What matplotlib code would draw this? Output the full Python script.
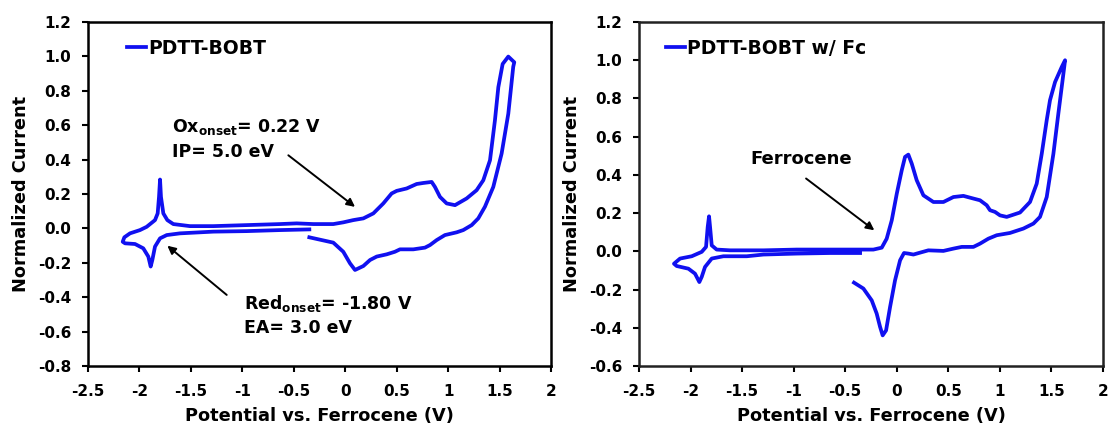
import matplotlib
matplotlib.use("Agg")
import matplotlib.pyplot as plt

plt.rcParams['font.family'] = 'DejaVu Sans'
plt.rcParams['font.weight'] = 'bold'
plt.rcParams['axes.unicode_minus'] = False
plt.rcParams['mathtext.fontset'] = 'dejavusans'
plt.rcParams['mathtext.default'] = 'bf'

# CV of the polymer alone (potential in V, normalized current)
cv1_x = [-0.349, -0.116, -0.019, 0.046, 0.095, 0.176, 0.241, 0.306, 0.403, 0.483,
         0.532, 0.662, 0.775, 0.824, 0.889, 0.969, 1.083, 1.147, 1.229, 1.293,
         1.358, 1.439, 1.520, 1.585, 1.633, 1.643, 1.585, 1.530, 1.488, 1.455,
         1.407, 1.342, 1.277, 1.180, 1.067, 0.986, 0.921, 0.872, 0.840, 0.759,
         0.694, 0.597, 0.500, 0.451, 0.370, 0.273, 0.176, 0.078, -0.019, -0.116,
         -0.310, -0.472, -0.634, -0.958, -1.282, -1.509, -1.671, -1.729, -1.768, -1.791,
         -1.800, -1.810, -1.823, -1.849, -1.930, -1.995, -2.092, -2.147, -2.163, -2.140,
         -2.043, -1.963, -1.914, -1.891, -1.875, -1.849, -1.800, -1.735, -1.606, -1.282,
         -0.958, -0.634, -0.349]
cv1_y = [-0.052, -0.083, -0.136, -0.203, -0.242, -0.219, -0.184, -0.164, -0.151, -0.136,
         -0.122, -0.122, -0.112, -0.097, -0.068, -0.039, -0.023, -0.010, 0.019, 0.058,
         0.126, 0.241, 0.435, 0.667, 0.940, 0.966, 0.999, 0.956, 0.821, 0.628,
         0.396, 0.280, 0.222, 0.174, 0.135, 0.145, 0.183, 0.241, 0.270, 0.264,
         0.258, 0.232, 0.218, 0.203, 0.145, 0.087, 0.058, 0.048, 0.035, 0.025,
         0.025, 0.029, 0.025, 0.019, 0.013, 0.013, 0.025, 0.048, 0.087, 0.183,
         0.284, 0.183, 0.087, 0.048, 0.009, -0.010, -0.029, -0.052, -0.078, -0.087,
         -0.091, -0.116, -0.164, -0.222, -0.184, -0.106, -0.058, -0.039, -0.029, -0.019,
         -0.016, -0.010, -0.006]

# CV of the polymer with ferrocene added
cv2_x = [-0.415, -0.324, -0.243, -0.195, -0.162, -0.137, -0.104, -0.065, -0.017, 0.032,
         0.070, 0.112, 0.161, 0.226, 0.306, 0.452, 0.549, 0.630, 0.743, 0.807,
         0.888, 0.969, 1.098, 1.228, 1.325, 1.389, 1.454, 1.519, 1.567, 1.616,
         1.632, 1.600, 1.535, 1.486, 1.454, 1.406, 1.357, 1.292, 1.195, 1.066,
         1.001, 0.953, 0.904, 0.872, 0.807, 0.743, 0.646, 0.549, 0.452, 0.355,
         0.258, 0.193, 0.145, 0.112, 0.080, 0.048, 0.000, -0.049, -0.098, -0.146,
         -0.227, -0.324, -0.647, -0.971, -1.294, -1.617, -1.747, -1.795, -1.811, -1.821,
         -1.834, -1.850, -1.892, -1.989, -2.102, -2.161, -2.135, -2.021, -1.957, -1.915,
         -1.892, -1.860, -1.795, -1.682, -1.455, -1.294, -0.971, -0.647, -0.356]
cv2_y = [-0.164, -0.195, -0.257, -0.326, -0.396, -0.440, -0.414, -0.291, -0.152, -0.047,
         -0.009, -0.012, -0.017, -0.007, 0.005, 0.002, 0.014, 0.023, 0.023, 0.040,
         0.066, 0.084, 0.096, 0.119, 0.145, 0.180, 0.284, 0.511, 0.721, 0.930,
         1.000, 0.965, 0.886, 0.791, 0.686, 0.511, 0.354, 0.258, 0.203, 0.180,
         0.188, 0.206, 0.215, 0.241, 0.267, 0.276, 0.290, 0.284, 0.258, 0.258,
         0.293, 0.372, 0.459, 0.506, 0.494, 0.424, 0.302, 0.162, 0.066, 0.019,
         0.009, 0.009, 0.009, 0.009, 0.005, 0.005, 0.009, 0.031, 0.127, 0.183,
         0.127, 0.023, -0.003, -0.026, -0.038, -0.065, -0.077, -0.091, -0.117, -0.161,
         -0.134, -0.082, -0.038, -0.026, -0.026, -0.017, -0.012, -0.009, -0.009]

x_ticks = [-2.5, -2, -1.5, -1, -0.5, 0, 0.5, 1, 1.5, 2]
x_ticklabels = ['-2.5', '-2', '-1.5', '-1', '-0.5', '0', '0.5', '1', '1.5', '2']
y1_ticks = [-0.8, -0.6, -0.4, -0.2, 0.0, 0.2, 0.4, 0.6, 0.8, 1.0, 1.2]
y2_ticks = [-0.6, -0.4, -0.2, 0.0, 0.2, 0.4, 0.6, 0.8, 1.0, 1.2]

blue = '#1010f0'

fig = plt.figure(figsize=(11.1, 4.3), dpi=100)
ax1 = fig.add_axes([0.0793, 0.149, 0.4171, 0.7998])
ax2 = fig.add_axes([0.5757, 0.149, 0.4180, 0.7998])


def style_axes(ax, yticks, spine_color):
    ax.set_xlim(-2.5, 2)
    ax.set_ylim(yticks[0], yticks[-1])
    ax.set_xticks(x_ticks)
    ax.set_xticklabels(x_ticklabels)
    ax.set_yticks(yticks)
    ax.set_yticklabels([f'{v:.1f}' for v in yticks])
    ax.tick_params(direction='out', length=4.5, width=1.5, labelsize=11)
    ax.tick_params(axis='x', pad=8.5)
    ax.tick_params(axis='y', pad=7.5)
    for s in ax.spines.values():
        s.set_linewidth(1.8)
        s.set_color(spine_color)
    ax.set_xlabel('Potential vs. Ferrocene (V)', fontsize=12.8, fontweight='bold', labelpad=6)
    ax.set_ylabel('Normalized Current', fontsize=12.8, fontweight='bold', labelpad=6)


# left panel
ax1.plot(cv1_x, cv1_y, color=blue, lw=2.7, solid_joinstyle='round', label='PDTT-BOBT')
style_axes(ax1, y1_ticks, 'black')
ax1.legend(loc='center left', bbox_to_anchor=(0.085, 0.923), frameon=False,
           handlelength=1.0, handletextpad=0.1, borderpad=0, borderaxespad=0,
           prop={'size': 13.5, 'weight': 'bold'})

arrow = dict(arrowstyle='-|>', color='black', lw=1.4, mutation_scale=12, shrinkA=0, shrinkB=0)
ax1.annotate('', xy=(0.095, 0.125), xytext=(-0.553, 0.425), arrowprops=arrow)
ax1.annotate('', xy=(-1.729, -0.101), xytext=(-1.152, -0.387), arrowprops=arrow)
ax1.text(-1.687, 0.59, r'Ox$_{onset}$= 0.22 V', fontsize=12.5, fontweight='bold', va='center')
ax1.text(-1.687, 0.444, 'IP= 5.0 eV', fontsize=12.5, fontweight='bold', va='center')
ax1.text(-0.984, -0.435, r'Red$_{onset}$= -1.80 V', fontsize=12.5, fontweight='bold', va='center')
ax1.text(-0.984, -0.58, 'EA= 3.0 eV', fontsize=12.5, fontweight='bold', va='center')

# right panel
ax2.plot(cv2_x, cv2_y, color=blue, lw=2.7, solid_joinstyle='round', label='PDTT-BOBT w/ Fc')
style_axes(ax2, y2_ticks, '#222222')
ax2.legend(loc='center left', bbox_to_anchor=(0.058, 0.923), frameon=False,
           handlelength=1.0, handletextpad=0.1, borderpad=0, borderaxespad=0,
           prop={'size': 13.5, 'weight': 'bold'})
ax2.annotate('', xy=(-0.218, 0.11), xytext=(-0.88, 0.381), arrowprops=arrow)
ax2.text(-1.423, 0.485, 'Ferrocene', fontsize=13, fontweight='bold', va='center')

fig.savefig('out.png', dpi=100)
